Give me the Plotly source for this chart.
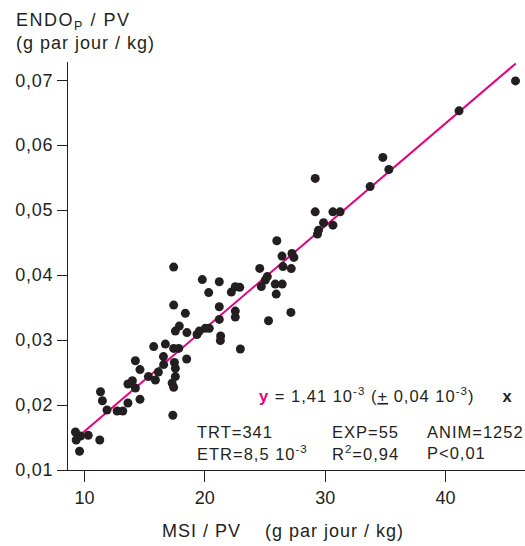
import plotly.graph_objects as go

# ---- data ----
msi_pv = [9.25, 9.67, 9.31, 10.31, 9.59, 11.27, 11.33, 11.49, 11.87, 12.71, 13.18, 13.61, 13.61,
          13.98, 14.23, 14.61, 14.61, 14.23, 15.31, 15.89, 16.14, 16.58, 17.28, 17.41, 17.34,
          17.55, 17.55, 17.47, 16.56, 15.75, 16.72, 17.41, 17.83, 18.49, 17.55, 17.88, 18.51,
          19.35, 19.54, 20.04, 20.37, 21.31, 21.29, 22.95, 17.41, 18.38, 21.2, 22.53, 22.53,
          21.2, 17.41, 19.79, 21.2, 20.32, 22.2, 22.53, 22.9, 24.56, 25.19, 24.69, 25.29, 25.02,
          25.85, 26.43, 25.93, 27.15, 25.98, 26.41, 27.24, 27.4, 26.49, 27.18, 29.17, 29.17,
          30.64, 31.24, 29.86, 30.64, 29.44, 29.36, 33.73, 34.79, 35.29, 41.12, 45.81]
endo_pv = [0.01585, 0.01523, 0.01462, 0.01534, 0.01288, 0.01462, 0.02205, 0.02066, 0.01923,
           0.01908, 0.01908, 0.02031, 0.02323, 0.02374, 0.02262, 0.02088, 0.02546, 0.02682,
           0.02438, 0.02385, 0.02508, 0.02623, 0.02338, 0.02272, 0.01842, 0.02438, 0.02565,
           0.02654, 0.02746, 0.0290, 0.02938, 0.02872, 0.02872, 0.02708, 0.03138, 0.03215,
           0.03115, 0.03085, 0.03138, 0.0318, 0.0318, 0.03062, 0.02992, 0.02862, 0.03538,
           0.03411, 0.03512, 0.03446, 0.03354, 0.03318, 0.04123, 0.03931, 0.03897, 0.03731,
           0.03738, 0.0382, 0.03811, 0.04103, 0.03977, 0.03823, 0.03297, 0.03923, 0.03862,
           0.03862, 0.03708, 0.03426, 0.04528, 0.04292, 0.04334, 0.04272, 0.04131, 0.041,
           0.05488, 0.04974, 0.04974, 0.04974, 0.04805, 0.04769, 0.04692, 0.04631, 0.05362,
           0.05811, 0.05626, 0.06528, 0.06989]

fit_x = [9.81, 45.83]
fit_y = [0.01565, 0.07257]

x_ticks = [10, 20, 30, 40]
x_tick_labels = ["10", "20", "30", "40"]
y_ticks = [0.01, 0.02, 0.03, 0.04, 0.05, 0.06, 0.07]
y_tick_labels = ["0,01", "0,02", "0,03", "0,04", "0,05", "0,06", "0,07"]

# ---- layout geometry ----
W, H = 525, 546
ML, MR, MT, MB = 68, 0, 62, 76
PW, PH = W - ML - MR, H - MT - MB
X_RANGE = [8.63, 46.6]
Y_RANGE = [0.01, 0.0728]


def px_x(px):
    return (px - ML) / PW


def px_y(py):
    return (H - MB - py) / PH


def sp(text, ls=1):
    return "<span style='letter-spacing:%spx'>%s</span>" % (ls, text)


FONT = "Liberation Sans, Arial, Helvetica, sans-serif"
MAGENTA = "#e5007d"
DARK = "#231f20"

fig = go.Figure()
fig.add_trace(go.Scatter(x=fit_x, y=fit_y, mode="lines",
                         line=dict(color=MAGENTA, width=2), hoverinfo="skip"))
fig.add_trace(go.Scatter(x=msi_pv, y=endo_pv, mode="markers",
                         marker=dict(color=DARK, size=9, line=dict(width=0))))

ann_font = dict(family=FONT, size=16.5, color=DARK)
title_font = dict(family=FONT, size=18, color=DARK)
eq = ("<b><span style='color:%s'>y</span></b> = 1,41 10<sup>-3</sup> "
      "(<u>+</u> 0,04 10<sup>-3</sup>)&nbsp;&nbsp;&nbsp;&nbsp; <b>x</b>") % MAGENTA
annotations = [
    dict(text=sp("ENDO<sub>P</sub> / PV", 1.5) + "<br>" + sp("(g par jour / kg)"), x=px_x(14), y=px_y(8),
         xanchor="left", yanchor="top", align="left", font=title_font),
    dict(text=sp("MSI / PV&nbsp;&nbsp;&nbsp;&nbsp;(g par jour / kg)"), x=px_x(160), y=px_y(531),
         xanchor="left", yanchor="middle", font=title_font),
    dict(text=sp(eq), x=px_x(257), y=px_y(395), xanchor="left", yanchor="middle", font=ann_font),
    dict(text=sp("TRT=341"), x=px_x(195), y=px_y(432), xanchor="left", yanchor="middle", font=ann_font),
    dict(text=sp("ETR=8,5 10<sup>-3</sup>"), x=px_x(195), y=px_y(453), xanchor="left", yanchor="middle", font=ann_font),
    dict(text=sp("EXP=55"), x=px_x(330), y=px_y(432), xanchor="left", yanchor="middle", font=ann_font),
    dict(text=sp("R<sup>2</sup>=0,94"), x=px_x(330), y=px_y(453), xanchor="left", yanchor="middle", font=ann_font),
    dict(text=sp("ANIM=1252"), x=px_x(425), y=px_y(432), xanchor="left", yanchor="middle", font=ann_font),
    dict(text=sp("P&lt;0,01"), x=px_x(425), y=px_y(453), xanchor="left", yanchor="middle", font=ann_font),
]
for a in annotations:
    a.update(xref="paper", yref="paper", showarrow=False)

fig.update_layout(
    width=W, height=H,
    margin=dict(l=ML, r=MR, t=MT, b=MB, pad=0),
    paper_bgcolor="white", plot_bgcolor="white",
    showlegend=False,
    font=dict(family=FONT, size=18, color=DARK),
    annotations=annotations,
    xaxis=dict(range=X_RANGE, tickvals=x_ticks, ticktext=x_tick_labels,
               showgrid=False, zeroline=False, showline=True, linecolor=DARK, linewidth=1,
               ticks="outside", ticklen=11, tickwidth=1, tickcolor=DARK,
               tickfont=dict(family=FONT, size=18, color=DARK)),
    yaxis=dict(range=Y_RANGE, tickvals=y_ticks, ticktext=[sp(t, 0.8) for t in y_tick_labels],
               showgrid=False, zeroline=False, showline=True, linecolor=DARK, linewidth=1,
               ticks="outside", ticklen=10, tickwidth=1, tickcolor=DARK,
               tickfont=dict(family=FONT, size=18, color=DARK)),
)

fig.write_html("out.html", config={"displayModeBar": False},
               post_script="document.body.style.margin='0px';")
